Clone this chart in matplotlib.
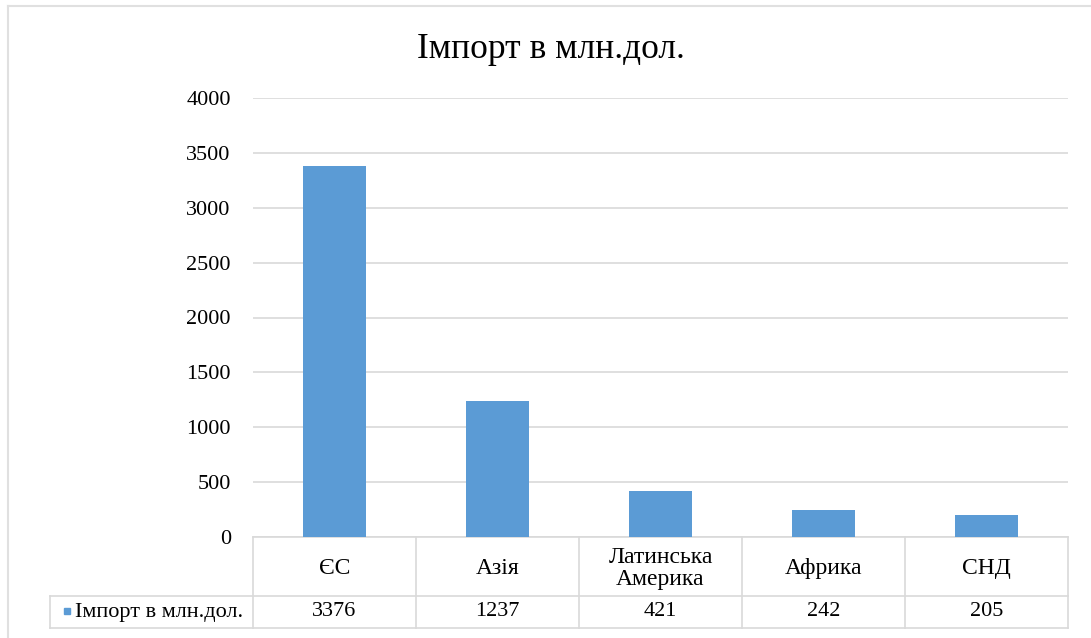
import matplotlib
matplotlib.use('Agg')
import matplotlib.pyplot as plt
import matplotlib.transforms as mtransforms
from matplotlib.lines import Line2D
from matplotlib.patches import Rectangle

# ── Data ─────────────────────────────────────────────────────
regions = ['ЄС', 'Азія', 'Латинська\nАмерика', 'Африка', 'СНД']
imports = [3376, 1237, 421, 242, 205]
series_name = 'Імпорт в млн.дол.'
title = 'Імпорт в млн.дол.'
yticks = [0, 500, 1000, 1500, 2000, 2500, 3000, 3500, 4000]

# ── Style ────────────────────────────────────────────────────
BLUE = '#5B9BD5'
GRID = '#D9D9D9'
plt.rcParams['font.family'] = ['Liberation Serif', 'DejaVu Serif']

W, H = 1091, 638
fig = plt.figure(figsize=(W / 100, H / 100), dpi=100)
fig.patch.set_facecolor('white')

# plot area in pixels: x 253..1068, y 98..537
x0, x1, ytop, ybot = 253, 1068, 98, 537
ax = fig.add_axes([x0 / W, (H - ybot) / H, (x1 - x0) / W, (ybot - ytop) / H])

xs = list(range(1, len(regions) + 1))
ax.bar(xs, imports, width=0.39, color=BLUE, zorder=3)
ax.set_xlim(0.5, len(regions) + 0.5)
ax.set_ylim(0, 4000)
ax.set_yticks(yticks)
ax.set_yticklabels([str(t) for t in yticks], fontsize=16)
ax.set_xticks([])
ax.tick_params(axis='y', length=0, pad=16)
ax.yaxis.grid(True, color=GRID, linewidth=1.2, zorder=0)
for s in ['top', 'right', 'left']:
    ax.spines[s].set_visible(False)
ax.spines['bottom'].set_color(GRID)
ax.spines['bottom'].set_linewidth(1.2)

# ── Data table below the axis ───────────────────────────────
trans = mtransforms.blended_transform_factory(ax.transData, ax.transAxes)
ph = ybot - ytop
row1 = -(596 - ybot) / ph
row2 = -(628 - ybot) / ph
left_edge = 0.5 + (50 - x0) / ((x1 - x0) / len(regions))
edges = [i + 0.5 for i in range(len(regions) + 1)]

lk = dict(color=GRID, linewidth=1.2, transform=trans, clip_on=False)
for e in edges:
    ax.add_line(Line2D([e, e], [0, row2], **lk))
ax.add_line(Line2D([left_edge, left_edge], [row1, row2], **lk))
ax.add_line(Line2D([left_edge, edges[-1]], [row1, row1], **lk))
ax.add_line(Line2D([left_edge, edges[-1]], [row2, row2], **lk))

for x, name, val in zip(xs, regions, imports):
    ax.text(x, row1 / 2 - 0.004, name, transform=trans, ha='center', va='center',
            fontsize=17, linespacing=1.05)
    ax.text(x, (row1 + row2) / 2, str(val), transform=trans, ha='center',
            va='center', fontsize=16)

# legend key in the table
ax.text(0.5 - 0.06, (row1 + row2) / 2, series_name, transform=trans,
        ha='right', va='center', fontsize=16)
ax.add_patch(Rectangle((64 / W, (H - 614) / H), 6 / W, 6 / H,
                       transform=fig.transFigure, color=BLUE, clip_on=False))

# ── Title and chart border ───────────────────────────────────
fig.text(551 / W, 1 - 50 / H, title, ha='center', va='center', fontsize=25.5)
bk = dict(color='#E0E0E0', linewidth=1.5, transform=fig.transFigure)
fig.add_artist(Line2D([8 / W, 8 / W], [0, 1 - 6 / H], **bk))
fig.add_artist(Line2D([8 / W, 1], [1 - 6 / H, 1 - 6 / H], **bk))

fig.savefig('out.png', dpi=100, facecolor='white')
